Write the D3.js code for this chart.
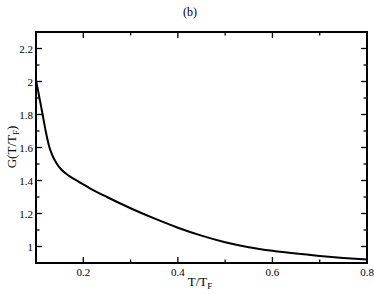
<!DOCTYPE html>
<html>
<head>
<meta charset="utf-8">
<script src="https://cdn.jsdelivr.net/npm/d3@7"></script>
<style>
html,body{margin:0;padding:0;background:#fff;}
svg text{font-family:"Liberation Serif","DejaVu Serif","Times New Roman",serif;}
</style>
</head>
<body>
<svg id="chart" width="374" height="294"></svg>
<script>
const tValues = [0.1, 0.107, 0.114, 0.1205, 0.128, 0.135, 0.144, 0.154, 0.17, 0.186, 0.2, 0.214, 0.25, 0.3, 0.35, 0.4, 0.45, 0.5, 0.55, 0.6, 0.65, 0.7, 0.75, 0.8];
const gValues = [2.01, 1.905, 1.80, 1.70, 1.605, 1.55, 1.502, 1.465, 1.428, 1.40, 1.376, 1.353, 1.30, 1.232, 1.17, 1.114, 1.066, 1.026, 0.996, 0.974, 0.957, 0.943, 0.931, 0.921];
const xMajorTicks = [0.2, 0.4, 0.6, 0.8];
const xMinorTicks = [0.1, 0.3, 0.5, 0.7];
const yMajorTicks = [1, 1.2, 1.4, 1.6, 1.8, 2, 2.2];
const yMinorTicks = [1.1, 1.3, 1.5, 1.7, 1.9, 2.1];
const xDomain = [0.1, 0.8];
const yDomain = [0.9, 2.3];

const svg = d3.select("#chart");
const FONT = "'Liberation Serif','DejaVu Serif','Times New Roman',serif";
const L = 36, R = 367, T = 32, B = 263;
const x = d3.scaleLinear().domain(xDomain).range([L, R]);
const y = d3.scaleLinear().domain(yDomain).range([B, T]);

// ticks
const g = svg.append("g").attr("stroke", "#000").attr("stroke-width", 1.3);
const maj = 6, mnr = 3.5;
xMajorTicks.concat(xMinorTicks).forEach((v) => {
  const len = xMajorTicks.includes(v) ? maj : mnr;
  const px = x(v);
  if (px <= L + 1 || px >= R - 1) return;
  g.append("line").attr("x1", px).attr("x2", px).attr("y1", B).attr("y2", B - len);
  g.append("line").attr("x1", px).attr("x2", px).attr("y1", T).attr("y2", T + len);
});
yMajorTicks.concat(yMinorTicks).forEach((v) => {
  const len = yMajorTicks.includes(v) ? maj : mnr;
  const py = y(v);
  g.append("line").attr("x1", L).attr("x2", L + len).attr("y1", py).attr("y2", py);
  g.append("line").attr("x1", R).attr("x2", R - len).attr("y1", py).attr("y2", py);
});

// frame
svg.append("rect").attr("x", L).attr("y", T).attr("width", R - L).attr("height", B - T)
  .attr("fill", "none").attr("stroke", "#000").attr("stroke-width", 2);

// tick labels
const fmt = d3.format("~g");
xMajorTicks.forEach((v) => {
  svg.append("text").attr("x", x(v)).attr("y", B + 13).attr("text-anchor", "middle")
    .attr("font-family", FONT).attr("font-size", 11).text(fmt(v));
});
yMajorTicks.forEach((v) => {
  svg.append("text").attr("x", L - 3).attr("y", y(v) + 4).attr("text-anchor", "end")
    .attr("font-family", FONT).attr("font-size", 11).text(fmt(v));
});

// curve
const data = tValues.map((t, i) => [t, gValues[i]]);
svg.append("path").datum(data)
  .attr("fill", "none").attr("stroke", "#000").attr("stroke-width", 2)
  .attr("d", d3.line().x(d => x(d[0])).y(d => y(d[1])).curve(d3.curveMonotoneX));

// title
svg.append("text").attr("x", 190).attr("y", 16).attr("text-anchor", "middle")
  .attr("font-family", FONT).attr("font-size", 12).text("(b)");

// x axis title
const xt = svg.append("text").attr("x", 200).attr("y", 286).attr("text-anchor", "middle")
  .attr("font-family", FONT).attr("font-size", 13);
xt.append("tspan").text("T/T");
xt.append("tspan").attr("font-size", 9).attr("dy", 3).text("F");

// y axis title
const yt = svg.append("text").attr("transform", "translate(16,147) rotate(-90)")
  .attr("text-anchor", "middle").attr("font-family", FONT).attr("font-size", 13);
yt.append("tspan").text("G(T/T");
yt.append("tspan").attr("font-size", 9).attr("dy", 3).text("F");
yt.append("tspan").attr("dy", -3).text(")");
</script>
</body>
</html>
